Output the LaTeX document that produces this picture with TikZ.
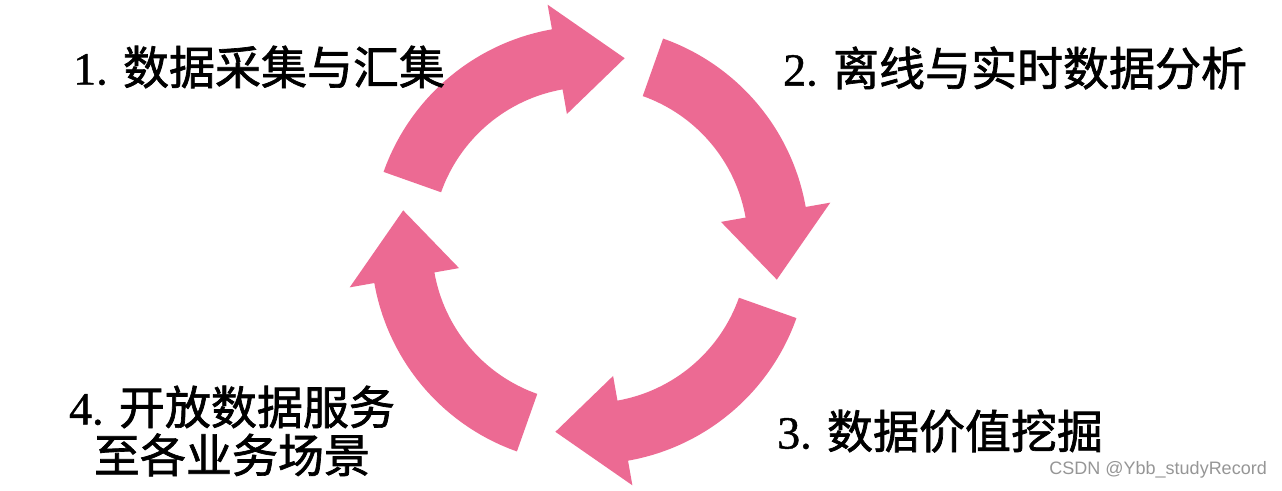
\documentclass[tikz,border=0pt]{standalone}
\usepackage{fontspec}
\setmainfont[FakeBold=1]{Liberation Serif}
\newfontfamily\cjk[FakeBold=1.5]{Noto Sans CJK SC}
\newfontfamily\wmfont{Liberation Sans}
\usetikzlibrary{calc}
\definecolor{arrowpink}{RGB}{236,106,147}
\definecolor{wmgray}{RGB}{150,150,150}
\begin{document}
\begin{tikzpicture}[x=1pt,y=1pt,
  lbl/.style={inner sep=0pt, font=\fontsize{46}{48}\selectfont},
  cyclearrow/.style={fill=arrowpink, draw=none}]
\useasboundingbox[fill=white] (0,0) rectangle (1282,490);
\coordinate (c) at (590,245);
\def\Rout{219}\def\Rin{158}\def\Rbo{244}\def\Rbi{133}\def\Rtip{190}
\foreach \T in {160.5,70.5,-19.5,-109.5}{
  \pgfmathsetmacro{\B}{\T-60.5}
  \pgfmathsetmacro{\P}{\T-81}
  \fill[cyclearrow] ($(c)+(\T:\Rout)$) arc[start angle=\T, end angle=\B, radius=\Rout]
    -- ($(c)+(\B:\Rbo)$) -- ($(c)+(\P:\Rtip)$) -- ($(c)+(\B:\Rbi)$)
    -- ($(c)+(\B:\Rin)$) arc[start angle=\B, end angle=\T, radius=\Rin] -- cycle;
}
\node[lbl, anchor=west] (l1) at (73,423) {1. {\cjk 数据采集与汇集}};
\node[lbl, anchor=west] (l2) at (783,422) {2. {\cjk 离线与实时数据分析}};
\node[lbl, anchor=west] (l3) at (777,59) {3. {\cjk 数据价值挖掘}};
\node[lbl, align=center] (l4) at (232,59) {4. {\cjk 开放数据服务}\\{\cjk 至各业务场景}};
\node[inner sep=0pt, anchor=east, text=wmgray, font=\wmfont\fontsize{18}{20}\selectfont] (wm) at (1267,20) {CSDN @Ybb\_studyRecord};
\end{tikzpicture}
\end{document}
